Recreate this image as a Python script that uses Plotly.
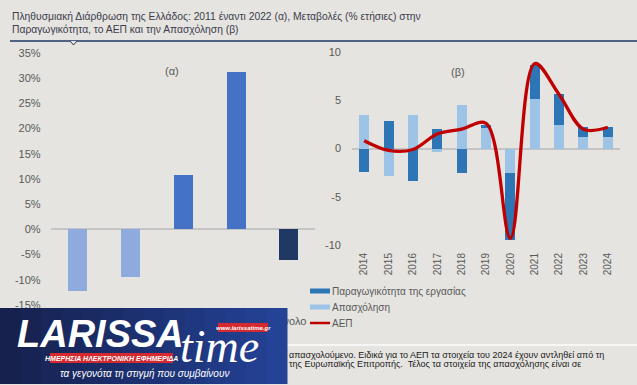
import plotly.graph_objects as go

W, H = 637, 385

# ---------------- data ----------------
# Panel (α): population structure change 2011 vs 2022
age_groups = ["0-14", "15-44", "45-64", "65+", "Σύνολο"]
age_labels_visible = ["", "", "", "", "Σύνολο"]   # first four are hidden behind the logo
pop_change = [-12.3, -9.5, 10.7, 31.3, -6.0]
pct_tick_vals = [-15, -10, -5, 0, 5, 10, 15, 20, 25, 30, 35]
pct_tick_text = ["-15%", "-10%", "-5%", "0%", "5%", "10%", "15%", "20%", "25%", "30%", "35%"]

# Panel (β): annual % changes
years = ["2014", "2015", "2016", "2017", "2018", "2019", "2020", "2021", "2022", "2023", "2024"]
employment = [3.5, -2.8, 3.45, -0.4, 4.55, 2.1, -2.5, 5.1, 2.4, 1.2, 1.2]
productivity = [-2.4, 2.85, -3.4, 2.0, -2.5, 0.3, -7.0, 3.6, 3.2, 1.0, 1.0]
gdp = [0.8, -0.2, -0.1, 1.5, 2.0, 2.6, -9.3, 8.8, 5.6, 2.0, 2.2]
b_tick_vals = [-10, -5, 0, 5, 10]
b_tick_text = ["-10", "-5", "0", "5", "10"]

# ---------------- styles ----------------
BG = "#e5e4e0"
TXT = "#595959"
FONT = "Liberation Sans"
pop_colors = ["#8faadc", "#8faadc", "#4472c4", "#4472c4", "#1f3864"]
C_PROD = "#2e75b6"
C_EMP = "#9dc3e6"
C_GDP = "#c00000"


def px(x):
    return x / W


def py(y):
    return 1 - y / H


fig = go.Figure()

fig.add_trace(go.Bar(
    x=age_groups, y=pop_change, marker=dict(color=pop_colors, line=dict(width=0)),
    width=0.36, xaxis="x", yaxis="y", showlegend=False, hoverinfo="skip"))

fig.add_trace(go.Bar(
    x=years, y=employment, name="Απασχόληση", marker=dict(color=C_EMP, line=dict(width=0)),
    width=0.41, xaxis="x2", yaxis="y2", showlegend=False))
fig.add_trace(go.Bar(
    x=years, y=productivity, name="Παραγωγικότητα της εργασίας",
    marker=dict(color=C_PROD, line=dict(width=0)),
    width=0.41, xaxis="x2", yaxis="y2", showlegend=False))
fig.add_trace(go.Scatter(
    x=years, y=gdp, name="ΑΕΠ", mode="lines",
    line=dict(color=C_GDP, width=3.3, shape="spline", smoothing=1.0),
    xaxis="x2", yaxis="y2", showlegend=False, cliponaxis=False))

axis_common = dict(showgrid=False, showline=False, ticks="", automargin=False,
                   tickfont=dict(family=FONT, size=11, color=TXT))

fig.update_layout(
    width=W, height=H, autosize=False,
    margin=dict(l=0, r=0, t=0, b=0, pad=0),
    paper_bgcolor=BG, plot_bgcolor=BG,
    barmode="relative", bargap=0,
    font=dict(family=FONT, color=TXT),
    xaxis=dict(domain=[px(50.6), px(315)], range=[-0.5, 4.5], type="category",
               tickmode="array", tickvals=age_groups, ticktext=age_labels_visible,
               anchor="y", ticklabelstandoff=8, zeroline=False, **axis_common),
    yaxis=dict(domain=[py(305), py(53)], range=[-15, 35], anchor="x",
               tickvals=pct_tick_vals, ticktext=pct_tick_text, ticklabelstandoff=9,
               zeroline=True, zerolinecolor="#c4c4c4", zerolinewidth=1.5, **axis_common),
    xaxis2=dict(domain=[px(352), px(620)], range=[-0.5, 10.5], type="category",
                anchor="y2", tickangle=-90, ticklabelstandoff=5, zeroline=False,
                showgrid=False, showline=False, ticks="", automargin=False,
                tickfont=dict(family=FONT, size=10, color=TXT)),
    yaxis2=dict(domain=[py(245), py(52)], range=[-10, 10], anchor="x2",
                tickvals=b_tick_vals, ticktext=b_tick_text, ticklabelstandoff=10,
                zeroline=True, zerolinecolor="#c4c4c4", zerolinewidth=1.5, **axis_common),
)

shapes = []
annotations = []

# title rule with small notch
shapes.append(dict(type="line", xref="paper", yref="paper", x0=px(10), x1=px(637), y0=py(41), y1=py(41),
                   line=dict(color="#1f3864", width=1.5)))
shapes.append(dict(type="path", xref="paper", yref="paper",
                   path=f"M {px(70)},{py(41)} L {px(73.5)},{py(45)} L {px(77)},{py(41)}",
                   line=dict(color="#1f3864", width=1), fillcolor=BG))

# title
annotations.append(dict(text="Πληθυσμιακή Διάρθρωση της Ελλάδος: 2011 έναντι 2022 (α), Μεταβολές (% ετήσιες) στην",
                        x=px(10), y=py(16), xref="paper", yref="paper", xanchor="left", yanchor="middle",
                        showarrow=False, font=dict(family=FONT, size=10.3, color="#3c3c4c")))
annotations.append(dict(text="Παραγωγικότητα, το ΑΕΠ και την Απασχόληση (β)",
                        x=px(10), y=py(29), xref="paper", yref="paper", xanchor="left", yanchor="middle",
                        showarrow=False, font=dict(family=FONT, size=10.3, color="#3c3c4c")))

# panel labels
annotations.append(dict(text="(α)", x=px(163), y=py(63), xref="paper", yref="paper", showarrow=False,
                        font=dict(family=FONT, size=11, color=TXT)))
annotations.append(dict(text="(β)", x=px(467), y=py(64), xref="paper", yref="paper", showarrow=False,
                        font=dict(family=FONT, size=11, color=TXT)))

# manual legend
leg = [("Παραγωγικότητα της εργασίας", C_PROD, 291, 5),
       ("Απασχόληση", C_EMP, 307, 5),
       ("ΑΕΠ", C_GDP, 323, 2.5)]
for label, col, yy, lw in leg:
    shapes.append(dict(type="line", xref="paper", yref="paper", x0=px(310), x1=px(330), y0=py(yy), y1=py(yy),
                       line=dict(color=col, width=lw)))
    annotations.append(dict(text=label, x=px(330), y=py(yy), xref="paper", yref="paper", xanchor="left",
                            yanchor="middle", showarrow=False, font=dict(family=FONT, size=10, color=TXT)))

# bottom separator and note text
shapes.append(dict(type="line", xref="paper", yref="paper", x0=px(287), x1=px(637), y0=py(345), y1=py(345),
                   line=dict(color="#f6f6f4", width=2)))
annotations.append(dict(text="απασχολούμενο. Ειδικά για το ΑΕΠ τα στοιχεία του 2024 έχουν αντληθεί από τη",
                        x=px(287), y=py(355), xref="paper", yref="paper", xanchor="left", yanchor="middle",
                        showarrow=False, font=dict(family=FONT, size=9, color="#1a1a1a")))
annotations.append(dict(text="της Ευρωπαϊκής Επιτροπής.  Τέλος τα στοιχεία της απασχόλησης είναι σε",
                        x=px(287), y=py(364), xref="paper", yref="paper", xanchor="left", yanchor="middle",
                        showarrow=False, font=dict(family=FONT, size=9, color="#1a1a1a")))

# logo overlay (gradient box)
n = 14
c0 = (22, 33, 78)
c1 = (36, 66, 150)
for i in range(n):
    t = i / (n - 1)
    c = tuple(int(c0[k] + (c1[k] - c0[k]) * t) for k in range(3))
    shapes.append(dict(type="rect", xref="paper", yref="paper", layer="above",
                       x0=px(287 * i / n), x1=px(287 * (i + 1) / n + 0.5), y0=py(384), y1=py(308),
                       line=dict(width=0), fillcolor=f"rgb{c}"))
# red banners
shapes.append(dict(type="rect", xref="paper", yref="paper", layer="above",
                   x0=px(50), x1=px(173), y0=py(363), y1=py(353), line=dict(width=0), fillcolor="#d42a2f"))
shapes.append(dict(type="rect", xref="paper", yref="paper", layer="above",
                   x0=px(218), x1=px(268), y0=py(332), y1=py(323), line=dict(width=0), fillcolor="#d42a2f"))

annotations.append(dict(text="<b><i>LARISSA</i></b>", x=px(15), y=py(334), xref="paper", yref="paper",
                        xanchor="left", yanchor="middle", showarrow=False,
                        font=dict(family=FONT, size=38, color="white")))
annotations.append(dict(text="<i>time</i>", x=px(178), y=py(346), xref="paper", yref="paper",
                        xanchor="left", yanchor="middle", showarrow=False,
                        font=dict(family="Liberation Serif", size=46, color="white")))
annotations.append(dict(text="<b><i>ΗΜΕΡΗΣΙΑ ΗΛΕΚΤΡΟΝΙΚΗ ΕΦΗΜΕΡΙΔΑ</i></b>", x=px(111.5), y=py(358),
                        xref="paper", yref="paper", xanchor="center", yanchor="middle", showarrow=False,
                        font=dict(family=FONT, size=7, color="white")))
annotations.append(dict(text="<b><i>www.larissatime.gr</i></b>", x=px(243), y=py(327.5),
                        xref="paper", yref="paper", xanchor="center", yanchor="middle", showarrow=False,
                        font=dict(family=FONT, size=6, color="white")))
annotations.append(dict(text="<i>τα γεγονότα τη στιγμή που συμβαίνουν</i>", x=px(144), y=py(373),
                        xref="paper", yref="paper", xanchor="center", yanchor="middle", showarrow=False,
                        font=dict(family=FONT, size=10, color="white")))

fig.update_layout(shapes=shapes, annotations=annotations)

fig.write_html("out.html", config={"displayModeBar": False},
               post_script="document.body.style.margin='0';document.body.style.overflow='hidden';")
